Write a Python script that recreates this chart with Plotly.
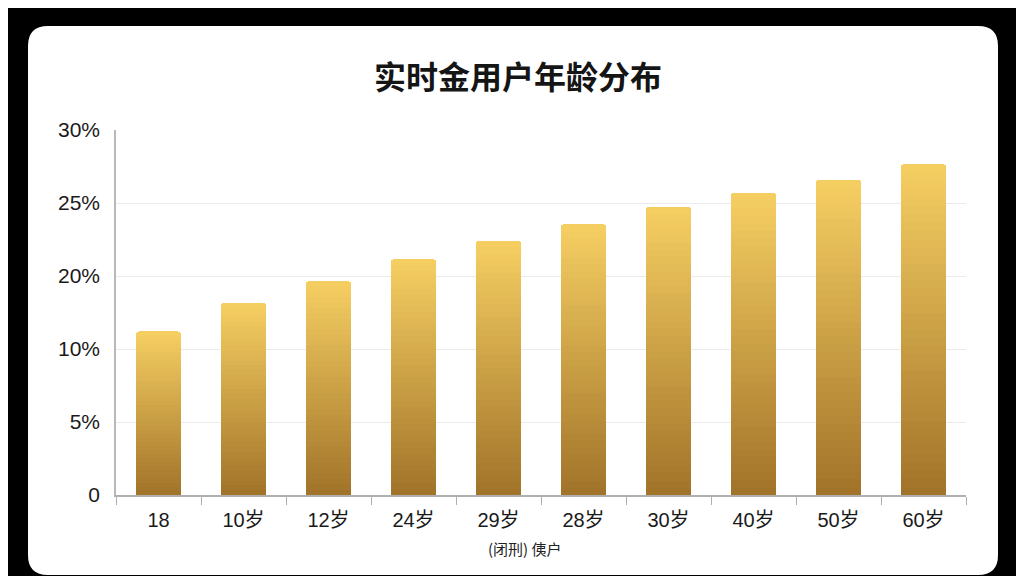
import plotly.graph_objects as go

# 年龄段与占比（按图中柱高读取，单位为坐标轴刻度单位）
categories = ['18', '10岁', '12岁', '24岁', '29岁', '28岁', '30岁', '40岁', '50岁', '60岁']
values = [11.2, 13.15, 14.65, 16.15, 17.4, 18.55, 19.75, 20.7, 21.6, 22.65]

tick_vals = [0, 5, 10, 15, 20, 25]
tick_text = ['0', '5%', '10%', '20%', '25%', '30%']

title_text = '实时金用户年龄分布'
xaxis_label = '(闭刑) 侇户'

FONT = 'Liberation Sans, Noto Sans CJK SC, sans-serif'

# 金色渐变：底部深、顶部浅
bottom_rgb = (162, 116, 42)
top_rgb = (245, 206, 98)
n_steps = 40


def mix(t):
    r = [round(b + (a - b) * t) for a, b in zip(top_rgb, bottom_rgb)]
    return 'rgb(%d,%d,%d)' % tuple(r)


fig = go.Figure()
for k in range(n_steps):
    fig.add_trace(go.Bar(
        x=categories,
        y=[v / n_steps for v in values],
        marker=dict(color=mix(k / (n_steps - 1)), line=dict(width=0)),
        showlegend=False,
        hoverinfo='skip',
    ))

# 页面本身有 8px 边距，所以坐标整体左移/上移 8px
# 绘图区：左108 右958 上122 下487 像素
PL, PR, PT, PB = 108, 958, 122, 487
pw, ph = PR - PL, PB - PT

# 白色圆角卡片背景
x0, x1 = (20 - PL) / pw, (990 - PL) / pw
y0, y1 = (PB - 567) / ph, (PB - 18) / ph
rx, ry = 20 / pw, 20 / ph
card = (f'M {x0 + rx} {y1} L {x1 - rx} {y1} Q {x1} {y1} {x1} {y1 - ry} '
        f'L {x1} {y0 + ry} Q {x1} {y0} {x1 - rx} {y0} '
        f'L {x0 + rx} {y0} Q {x0} {y0} {x0} {y0 + ry} '
        f'L {x0} {y1 - ry} Q {x0} {y1} {x0 + rx} {y1} Z')

fig.update_layout(
    width=1024, height=576,
    margin=dict(l=PL, r=1024 - PR, t=PT, b=576 - PB),
    paper_bgcolor='black',
    plot_bgcolor='rgba(0,0,0,0)',
    barmode='stack',
    bargap=0.46,
    barcornerradius=4,
    font=dict(family=FONT, color='#1a1a1a'),
    title=dict(text='<b>' + title_text + '</b>', x=(510 - PL) / pw, xref='paper',
               xanchor='center', y=1 - 70 / 576, yanchor='middle',
               font=dict(size=32, family='Noto Sans CJK SC', color='#151515')),
    shapes=[dict(type='path', path=card, xref='paper', yref='paper',
                 fillcolor='white', line=dict(width=0), layer='below')],
    annotations=[dict(text=xaxis_label, x=(517 - PL) / pw, y=(PB - 540) / ph,
                      xref='paper', yref='paper', xanchor='center', yanchor='middle',
                      showarrow=False,
                      font=dict(size=15, family='Noto Sans CJK SC', color='#222'))],
)

fig.update_xaxes(
    type='category',
    showline=True, linecolor='#b0b0b0', linewidth=1.5,
    ticks='outside', tickson='boundaries', ticklen=8, tickcolor='#b0b0b0',
    tickfont=dict(size=20, color='#1a1a1a'),
    ticklabelstandoff=6,
    showgrid=False,
)
fig.update_yaxes(
    range=[0, 25],
    tickvals=tick_vals, ticktext=tick_text,
    tickfont=dict(size=21, color='#1a1a1a'),
    showline=True, linecolor='#b8b8b8', linewidth=1.5,
    showgrid=True, gridcolor='#ebebeb', gridwidth=1,
    zeroline=False,
    ticks='', ticklabelstandoff=10,
)

fig.write_html('out.html')
